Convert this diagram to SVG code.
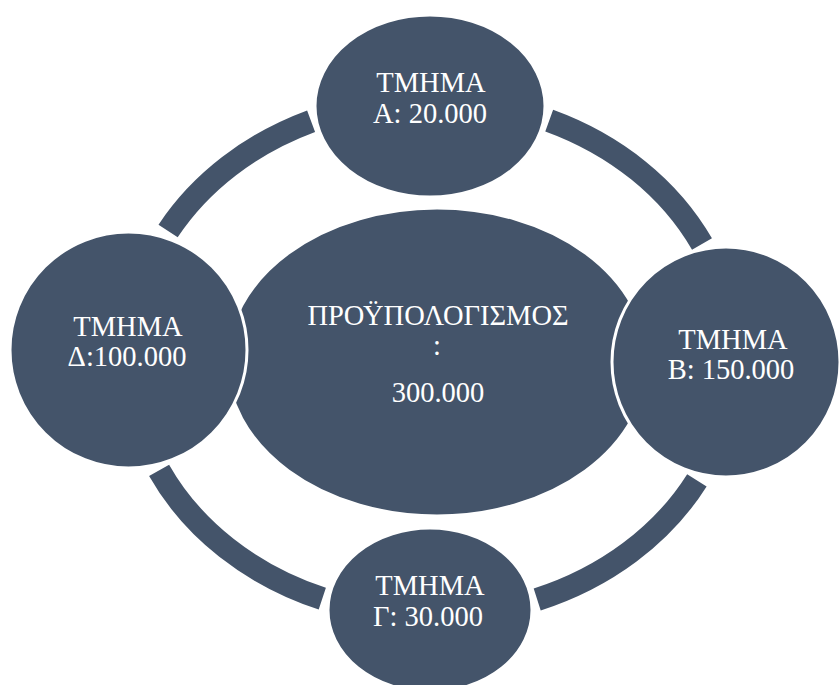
<svg xmlns="http://www.w3.org/2000/svg" width="839" height="685" viewBox="0 0 839 685">
<style>
.ring{fill:none;stroke:#44546A;stroke-width:23;stroke-linecap:butt}
.node{fill:#44546A;stroke:#FFFFFF;stroke-width:3}
text{font-family:'Liberation Serif','Times New Roman','DejaVu Serif',serif;font-size:28.5px;fill:#FFFFFF;text-anchor:middle}
</style>
<rect width="839" height="685" fill="#FFFFFF"/>
<g id="connectors">
<path class="ring" d="M168.1,231 A302,258 0 0,1 311.1,121.2"/>
<path class="ring" d="M549.2,120.6 A302,258 0 0,1 702,244.1"/>
<path class="ring" d="M696.9,480.3 A302,258 0 0,1 537.2,599.5"/>
<path class="ring" d="M322.3,598.7 A302,258 0 0,1 159.1,470.3"/>
</g>
<g id="center">
<ellipse class="node" cx="437" cy="362" rx="210" ry="154"/>
<text x="438" y="325">ΠΡΟΫΠΟΛΟΓΙΣΜΟΣ</text>
<text x="437" y="355">:</text>
<text x="438" y="402">300.000</text>
</g>
<g id="nodeA">
<ellipse class="node" cx="430" cy="106" rx="115" ry="91"/>
<text x="431" y="92">ΤΜΗΜΑ</text>
<text x="430" y="123">Α: 20.000</text>
</g>
<g id="nodeB">
<ellipse class="node" cx="726" cy="362" rx="114" ry="115"/>
<text x="733" y="349">ΤΜΗΜΑ</text>
<text x="731" y="379">Β: 150.000</text>
</g>
<g id="nodeG">
<ellipse class="node" cx="430" cy="610" rx="102" ry="82"/>
<text x="430" y="595">ΤΜΗΜΑ</text>
<text x="428" y="626">Γ: 30.000</text>
</g>
<g id="nodeD">
<ellipse class="node" cx="128.5" cy="350" rx="118.5" ry="118"/>
<text x="128" y="336">ΤΜΗΜΑ</text>
<text x="127" y="366">Δ:100.000</text>
</g>
</svg>
